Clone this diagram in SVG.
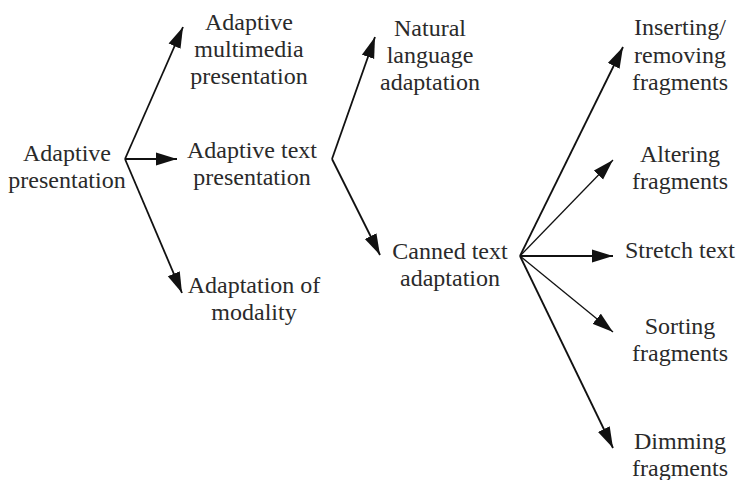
<svg xmlns="http://www.w3.org/2000/svg" width="738" height="480" viewBox="0 0 738 480">
<style>
text{font-family:"Liberation Serif","Times New Roman",serif;font-size:24px;fill:#2a2a2a;text-anchor:middle}
.c line{stroke:#111;stroke-width:1.8;fill:none}
.c line.t{stroke-width:1.3}
</style>
<defs>
<marker id="ah" markerUnits="userSpaceOnUse" markerWidth="22" markerHeight="14" viewBox="0 0 22 14" refX="21" refY="7" orient="auto">
<path d="M0,0.5 L21,7 L0,13.5 Z" fill="#111"/>
</marker>
</defs>
<g class="c" id="connectors">
<line x1="125" y1="159" x2="183" y2="27" marker-end="url(#ah)"/>
<line x1="125" y1="159" x2="177" y2="159" marker-end="url(#ah)"/>
<line x1="125" y1="159" x2="182" y2="293" marker-end="url(#ah)"/>
<line x1="332" y1="159" x2="375" y2="37" marker-end="url(#ah)"/>
<line x1="332" y1="159" x2="380" y2="255" marker-end="url(#ah)"/>
<line x1="520" y1="256" x2="623" y2="47" marker-end="url(#ah)"/>
<line class="t" x1="520" y1="256" x2="613" y2="160" marker-end="url(#ah)"/>
<line x1="520" y1="256" x2="613" y2="256" marker-end="url(#ah)"/>
<line class="t" x1="520" y1="256" x2="613" y2="332" marker-end="url(#ah)"/>
<line x1="520" y1="256" x2="613" y2="448" marker-end="url(#ah)"/>
</g>
<g id="adaptive-presentation"><text x="67" y="161">Adaptive</text><text x="67" y="188">presentation</text></g>
<g id="adaptive-multimedia"><text x="249" y="30">Adaptive</text><text x="249" y="57">multimedia</text><text x="249" y="84">presentation</text></g>
<g id="adaptive-text"><text x="252" y="158">Adaptive text</text><text x="252" y="185">presentation</text></g>
<g id="adaptation-modality"><text x="254" y="293">Adaptation of</text><text x="254" y="320">modality</text></g>
<g id="natural-language"><text x="430" y="36">Natural</text><text x="430" y="63">language</text><text x="430" y="90">adaptation</text></g>
<g id="canned-text"><text x="450" y="259">Canned text</text><text x="450" y="286">adaptation</text></g>
<g id="inserting"><text x="680" y="35">Inserting/</text><text x="680" y="63">removing</text><text x="680" y="90">fragments</text></g>
<g id="altering"><text x="680" y="162">Altering</text><text x="680" y="189">fragments</text></g>
<g id="stretch"><text x="680" y="258">Stretch text</text></g>
<g id="sorting"><text x="680" y="334">Sorting</text><text x="680" y="361">fragments</text></g>
<g id="dimming"><text x="680" y="449">Dimming</text><text x="680" y="476">fragments</text></g>
</svg>
